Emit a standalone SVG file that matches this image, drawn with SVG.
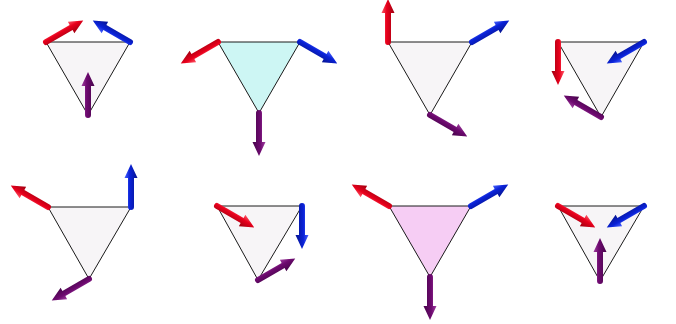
<svg xmlns="http://www.w3.org/2000/svg" xmlns:xlink="http://www.w3.org/1999/xlink" width="676" height="324" viewBox="0 0 676 324">
<style>
.tri{fill:#f7f5f7;stroke:#1a1a1a;stroke-width:1;stroke-linejoin:round}
.cyan{fill:#cdf6f4}
.pink{fill:#f6cdf4}
</style>
<defs>
<linearGradient id="gr" x1="0" y1="0" x2="0" y2="1"><stop offset="0" stop-color="#ff5a6a"/><stop offset="0.4" stop-color="#e8001c"/><stop offset="1" stop-color="#a00010"/></linearGradient>
<linearGradient id="gb" x1="0" y1="0" x2="0" y2="1"><stop offset="0" stop-color="#4a64ff"/><stop offset="0.4" stop-color="#0a22d8"/><stop offset="1" stop-color="#061490"/></linearGradient>
<linearGradient id="gp" x1="0" y1="0" x2="0" y2="1"><stop offset="0" stop-color="#a040a0"/><stop offset="0.4" stop-color="#6e0a70"/><stop offset="1" stop-color="#46044a"/></linearGradient>
<path id="arr" d="M0,-3 L29,-3 L29,-6.5 L43,0 L29,6.5 L29,3 L0,3 A3,3 0 0 1 0,-3 Z"/>
</defs>
<g id="t1">
<polygon class="tri" points="46,42 130,42 88,115"/>
<use xlink:href="#arr" fill="url(#gr)" transform="translate(46,42) rotate(-30)"/>
<use xlink:href="#arr" fill="url(#gb)" transform="translate(130,42) rotate(-150)"/>
<use xlink:href="#arr" fill="url(#gp)" transform="translate(88,115) rotate(-90)"/>
</g>
<g id="t2">
<polygon class="tri cyan" points="218,42 300,42 259,113"/>
<use xlink:href="#arr" fill="url(#gr)" transform="translate(218,42) rotate(150)"/>
<use xlink:href="#arr" fill="url(#gb)" transform="translate(300,42) rotate(30)"/>
<use xlink:href="#arr" fill="url(#gp)" transform="translate(259,113) rotate(90)"/>
</g>
<g id="t3">
<polygon class="tri" points="388,42 472,42 430,115"/>
<use xlink:href="#arr" fill="url(#gr)" transform="translate(388,42) rotate(-90)"/>
<use xlink:href="#arr" fill="url(#gb)" transform="translate(472,42) rotate(-30)"/>
<use xlink:href="#arr" fill="url(#gp)" transform="translate(430,115) rotate(30)"/>
</g>
<g id="t4">
<polygon class="tri" points="558,42 644,42 601,117"/>
<use xlink:href="#arr" fill="url(#gr)" transform="translate(558,42) rotate(90)"/>
<use xlink:href="#arr" fill="url(#gb)" transform="translate(644,42) rotate(150)"/>
<use xlink:href="#arr" fill="url(#gp)" transform="translate(601,117) rotate(-150)"/>
</g>
<g id="t5">
<polygon class="tri" points="48,207 131,207 89,279"/>
<use xlink:href="#arr" fill="url(#gr)" transform="translate(48,207) rotate(-150)"/>
<use xlink:href="#arr" fill="url(#gb)" transform="translate(131,207) rotate(-90)"/>
<use xlink:href="#arr" fill="url(#gp)" transform="translate(89,279) rotate(150)"/>
</g>
<g id="t6">
<polygon class="tri" points="217,206 302,206 258,280"/>
<use xlink:href="#arr" fill="url(#gr)" transform="translate(217,206) rotate(30)"/>
<use xlink:href="#arr" fill="url(#gb)" transform="translate(302,206) rotate(90)"/>
<use xlink:href="#arr" fill="url(#gp)" transform="translate(258,280) rotate(-30)"/>
</g>
<g id="t7">
<polygon class="tri pink" points="389,206 471,206 430,277"/>
<use xlink:href="#arr" fill="url(#gr)" transform="translate(389,206) rotate(-150)"/>
<use xlink:href="#arr" fill="url(#gb)" transform="translate(471,206) rotate(-30)"/>
<use xlink:href="#arr" fill="url(#gp)" transform="translate(430,277) rotate(90)"/>
</g>
<g id="t8">
<polygon class="tri" points="558,206 644,206 600,281"/>
<use xlink:href="#arr" fill="url(#gr)" transform="translate(558,206) rotate(30)"/>
<use xlink:href="#arr" fill="url(#gb)" transform="translate(644,206) rotate(150)"/>
<use xlink:href="#arr" fill="url(#gp)" transform="translate(600,281) rotate(-90)"/>
</g>
<g id="connectors"/>
</svg>
